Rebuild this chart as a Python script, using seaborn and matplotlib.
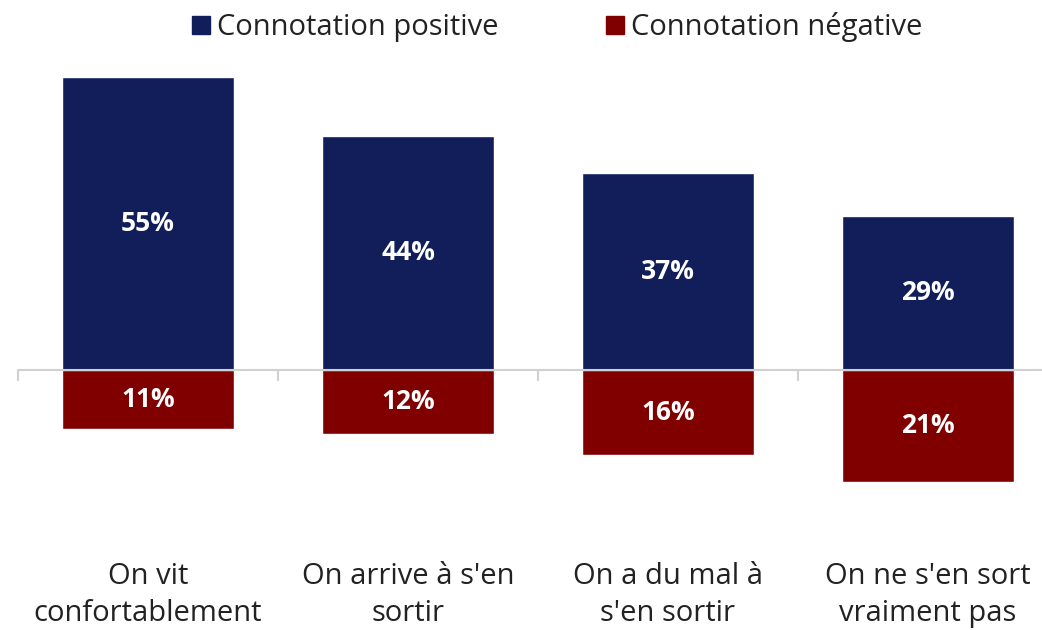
import matplotlib
matplotlib.use('Agg')
import matplotlib.pyplot as plt
import seaborn as sns
import pandas as pd
from matplotlib.lines import Line2D

categories = ["On vit\nconfortablement", "On arrive à s'en\nsortir",
              "On a du mal à\ns'en sortir", "On ne s'en sort\nvraiment pas"]
positive = [55, 44, 37, 29]
negative = [11, 12, 16, 21]
series_names = ["Connotation positive", "Connotation négative"]

navy = "#111E5A"
red = "#800000"

df = pd.DataFrame({"cat": categories, "pos": positive,
                   "neg": [-v for v in negative]})

sns.set_style("white")
plt.rcParams['font.family'] = ['Open Sans', 'DejaVu Sans']

W, H = 1042, 630
fig = plt.figure(figsize=(W / 100, H / 100), dpi=100)
# axes spans x 18..1058 px (4 categories of 260 px), y 60..530 px
ax = fig.add_axes([18 / W, 1 - 530 / H, 1040 / W, 470 / H])

sns.barplot(data=df, x="cat", y="pos", color=navy, width=0.665,
            saturation=1, ax=ax)
sns.barplot(data=df, x="cat", y="neg", color=red, width=0.665,
            saturation=1, ax=ax)

# zero at 370 px, 5.33 px per point
scale = 293 / 55
top = (370 - 60) / scale
bottom = -(530 - 370) / scale
ax.set_ylim(bottom, top)
ax.set_xlim(-0.5, 3.5)

for c, vals in zip(ax.containers, [positive, negative]):
    ax.bar_label(c, labels=[f"{v}%" for v in vals], label_type='center',
                 color='white', fontsize=19, fontweight='bold')

for s in ['top', 'right', 'left']:
    ax.spines[s].set_visible(False)
ax.spines['bottom'].set_position(('data', 0))
ax.spines['bottom'].set_color('#d0d0d0')
ax.spines['bottom'].set_linewidth(1.5)
ax.set_yticks([])
ax.set_xticks([-0.5, 0.5, 1.5, 2.5, 3.5], minor=True)
ax.tick_params(axis='x', which='minor', bottom=True, length=8, width=1.5,
               color='#d0d0d0', direction='out')
ax.tick_params(axis='x', which='major', length=0, pad=138,
               labelsize=21, labelcolor='#222222')
for lbl in ax.get_xticklabels():
    lbl.set_linespacing(1.4)
ax.set_xlabel("")
ax.set_ylabel("")

handles = [Line2D([], [], marker='s', linestyle='none', markersize=13,
                  color=col) for col in [navy, red]]
fig.legend(handles, series_names, loc='center', bbox_to_anchor=(0.525, 1 - 27 / H),
           ncol=2, frameon=False, fontsize=21, handletextpad=-0.45,
           columnspacing=3.0, labelcolor='#222222')

fig.savefig("out.png", dpi=100)
